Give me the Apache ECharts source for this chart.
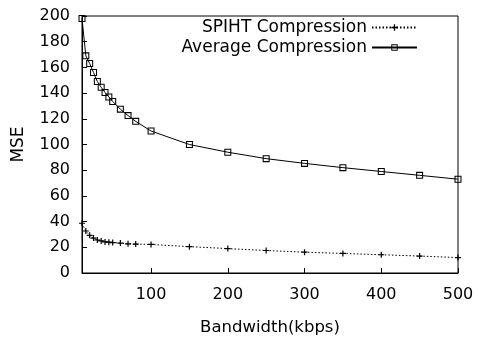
<!DOCTYPE html>
<html><head><meta charset="utf-8">
<script src="https://cdn.jsdelivr.net/npm/echarts@6/dist/echarts.min.js"></script>
<style>html,body{margin:0;padding:0;background:#fff}#c{width:478px;height:341px}</style>
</head><body><div id="c"></div>
<script>
const bandwidth = [10,15,20,25,30,35,40,45,50,60,70,80,100,150,200,250,300,350,400,450,500];
const spihtMSE = [38.7,32.7,29.3,27.2,25.7,25,24.2,24,23.7,23.3,22.7,22.5,22.2,20.5,19,17.5,16.2,15.2,14.2,13.2,12];
const avgMSE = [198,169,163,156,149,144.5,140.5,137,133.5,127.5,122.5,118,110.5,100,94,89,85.3,82,79,76,73];
const xTicks = [100,200,300,400,500];
const seriesNames = ['SPIHT Compression','Average Compression'];

const font = 'DejaVu Sans, sans-serif';
const plus = 'path://M4,0h2v4h4v2h-4v4h-2v-4h-4v-2h4z';
const box = 'path://M0,0H10V10H0Z M1.5,1.5V8.5H8.5V1.5Z';
const chart = echarts.init(document.getElementById('c'), null, {renderer:'canvas'});
const legendText = {fontFamily:font,fontSize:17,color:'#000'};
chart.setOption({
  animation:false,
  backgroundColor:'#fff',
  grid:{left:82,top:16,width:376,height:266,show:true,borderColor:'#000',borderWidth:1,backgroundColor:'transparent'},
  legend:[
    {data:[seriesNames[0]],right:60,top:19,align:'right',itemWidth:45,itemHeight:8,padding:0,textStyle:legendText},
    {data:[seriesNames[1]],right:60,top:39,align:'right',itemWidth:45,itemHeight:8,padding:0,textStyle:legendText}
  ],
  xAxis:{type:'value',min:10,max:500,
    name:'Bandwidth(kbps)',nameLocation:'middle',nameGap:46,
    nameTextStyle:{fontFamily:font,fontSize:16.5,color:'#000'},
    axisLine:{show:true,lineStyle:{color:'#000',width:1}},
    axisTick:{show:true,inside:true,length:5,customValues:xTicks,lineStyle:{color:'#000'}},
    axisLabel:{customValues:xTicks,fontFamily:font,fontSize:16,color:'#000',margin:14},
    splitLine:{show:false}},
  yAxis:{type:'value',min:0,max:200,interval:20,
    name:'MSE',nameLocation:'middle',nameGap:55,nameRotate:90,
    nameTextStyle:{fontFamily:font,fontSize:17,color:'#000'},
    axisLine:{show:true,lineStyle:{color:'#000',width:1}},
    axisTick:{show:true,inside:true,length:5,lineStyle:{color:'#000'}},
    axisLabel:{fontFamily:font,fontSize:16,color:'#000',margin:12},
    splitLine:{show:false}},
  series:[
    {name:seriesNames[0],type:'line',data:bandwidth.map((x,i)=>[x,spihtMSE[i]]),
     symbol:plus,symbolSize:6,color:'#000',
     lineStyle:{color:'#000',width:1,type:[1.5,2]},itemStyle:{color:'#000'}},
    {name:seriesNames[1],type:'line',data:bandwidth.map((x,i)=>[x,avgMSE[i]]),
     symbol:box,symbolSize:7,color:'#000',
     lineStyle:{color:'#000',width:1,type:'solid'},itemStyle:{color:'#000'}}
  ]
});
</script></body></html>
